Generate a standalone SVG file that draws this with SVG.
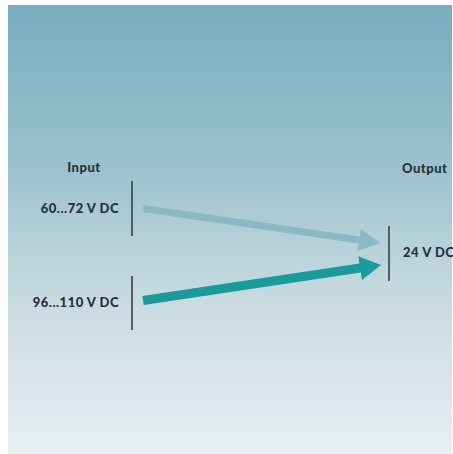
<svg xmlns="http://www.w3.org/2000/svg" width="453" height="454" viewBox="0 0 453 454">
<defs>
<linearGradient id="bg" x1="0" y1="0" x2="0" y2="1">
<stop offset="0" stop-color="#77adbd"/>
<stop offset="0.33" stop-color="#98bfcc"/>
<stop offset="0.66" stop-color="#c8dbe1"/>
<stop offset="0.93" stop-color="#e3ebef"/>
<stop offset="1" stop-color="#e9eff0"/>
</linearGradient>
<style>
text{font-family:"Lato","Open Sans","Liberation Sans",sans-serif;font-weight:900;font-size:13px;letter-spacing:0.5px;fill:#26313b}
.bar{stroke:#3a3f44;stroke-width:1.6}
</style>
</defs>
<rect x="0" y="0" width="453" height="454" fill="#ffffff"/>
<rect x="8" y="5" width="444" height="449" fill="url(#bg)"/>
<g id="input">
<text x="84" y="172" text-anchor="middle">Input</text>
</g>
<g id="in1">
<line class="bar" x1="132" y1="181" x2="132" y2="236"/>
<text x="119" y="213" text-anchor="end">60...72 V DC</text>
</g>
<g id="in2">
<line class="bar" x1="132" y1="276" x2="132" y2="330"/>
<text x="119" y="307" text-anchor="end">96...110 V DC</text>
</g>
<g id="output">
<text x="402" y="173">Output</text>
</g>
<g id="out">
<line class="bar" x1="389" y1="226" x2="389" y2="281"/>
<text x="403" y="257">24 V DC</text>
</g>
<g id="connectors">
<polygon fill="#8cb8c4" points="143.5,205 359.7,236.5 360.8,229.1 380,243 357.6,250.9 358.7,243.5 142.5,212"/>
<polygon fill="#1b9a9b" points="142.3,296 359.5,263.6 358.4,256.2 381,265 362,280 360.9,272.6 143.7,305"/>
</g>
</svg>
